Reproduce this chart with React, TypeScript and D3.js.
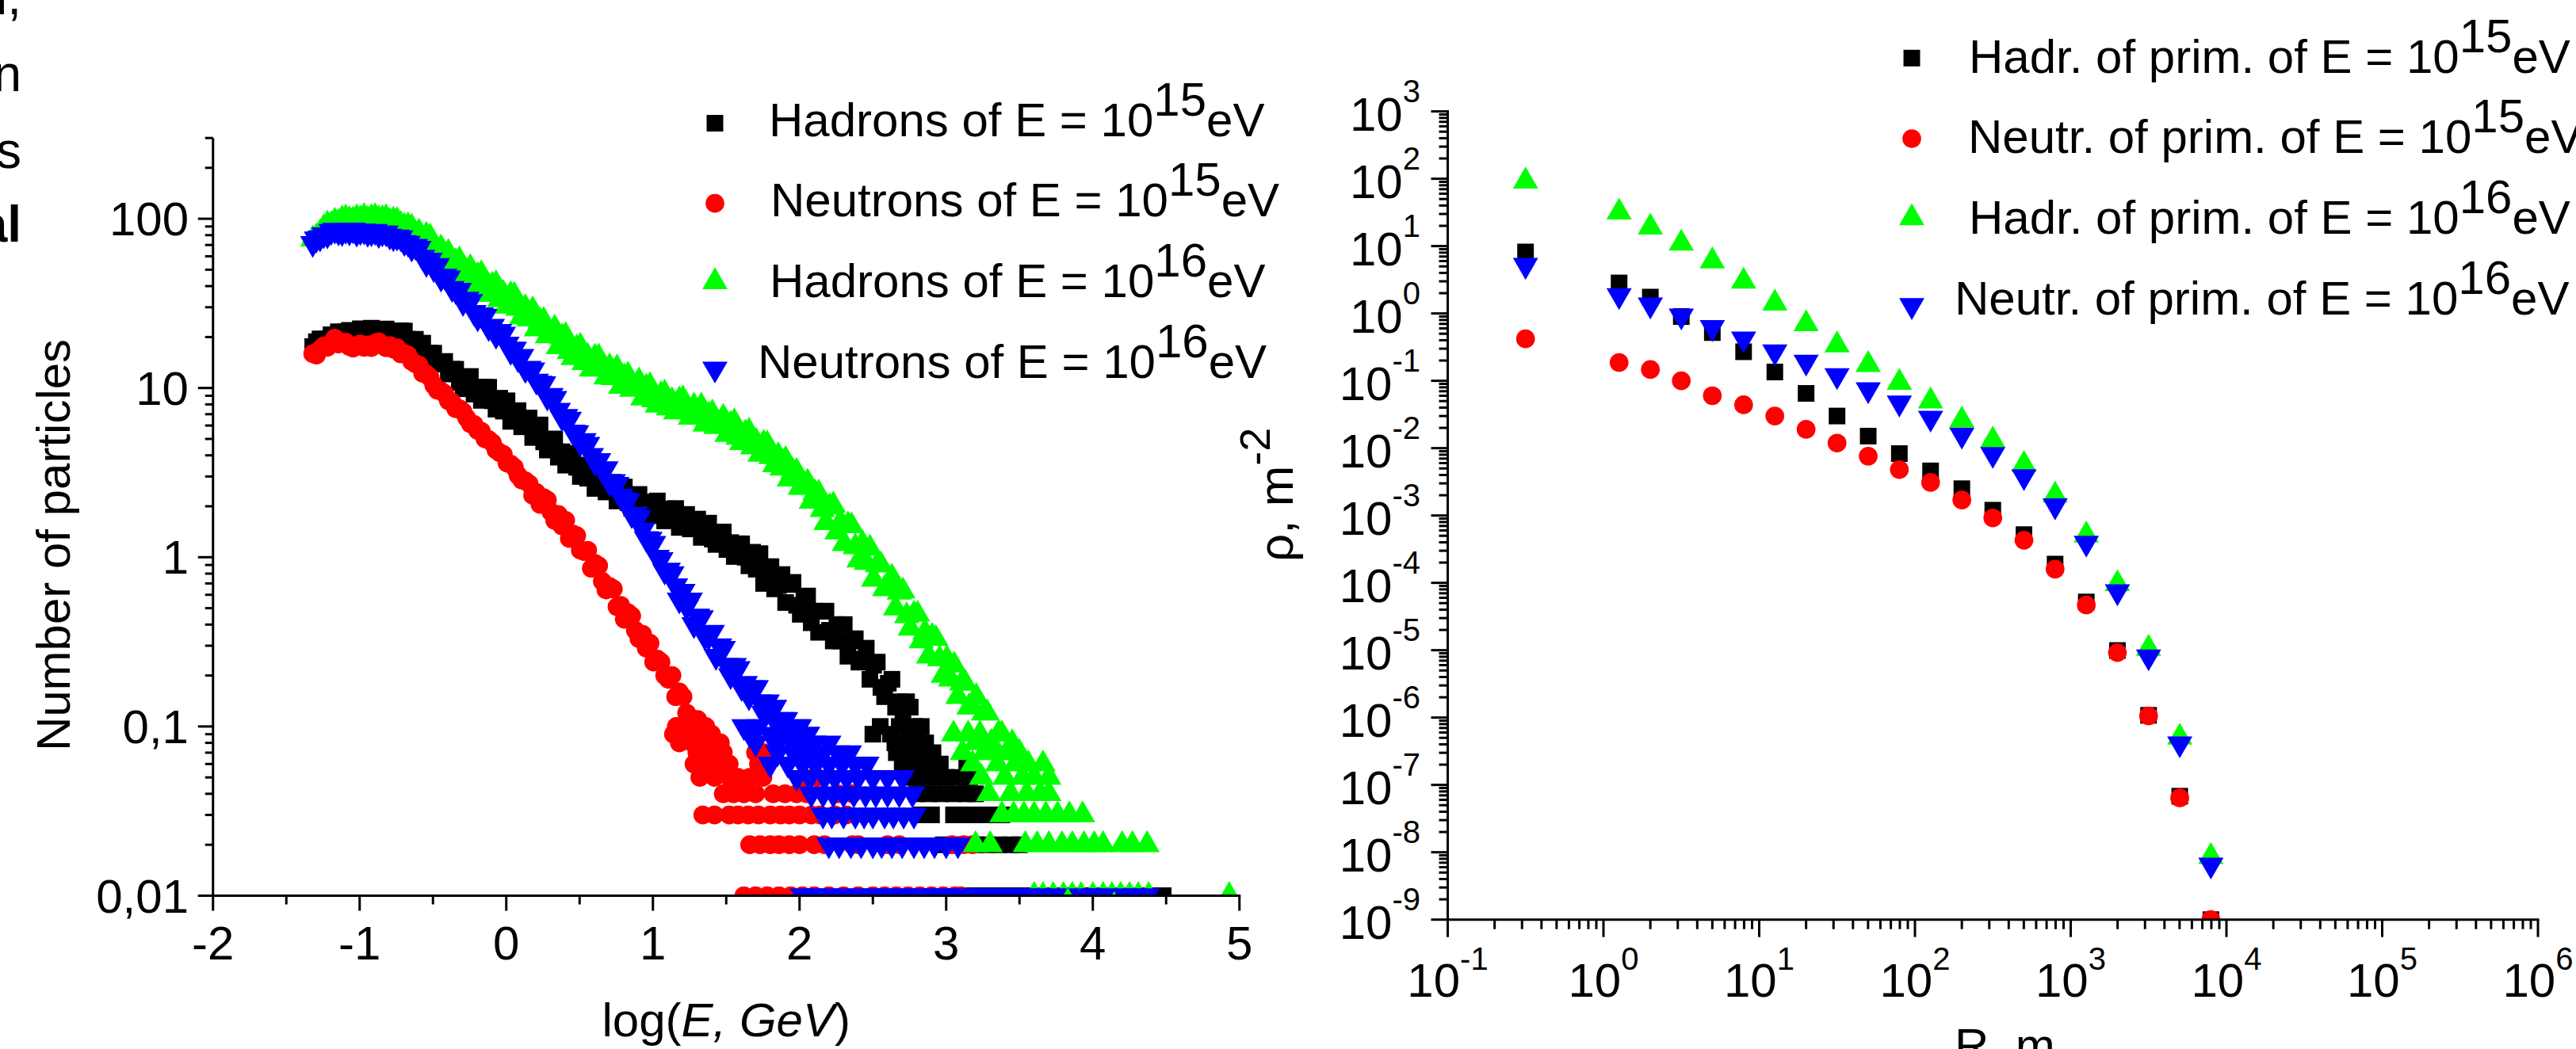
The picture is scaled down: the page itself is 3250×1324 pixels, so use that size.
import React from "react";
import * as d3 from "d3";

const W = 3250;
const H = 1324;
const FONT = '"Liberation Sans", Arial, Helvetica, sans-serif';

// ---------------- Left panel: energy spectra ----------------
// main band values on a regular log(E) grid
const logEStart = -1.32;
const logEStep = 0.025;

const hadrons15Band = [
  17.55, 18.8, 19.5, 19.35, 19.55, 20.65, 20.45, 21.5, 20.7, 21.5,
  21.9, 21.3, 21.7, 22.35, 21.35, 22.2, 22.55, 21.65, 21.45, 22.2,
  22.3, 21.1, 21.4, 20.5, 21.8, 21.7, 19.4, 18, 19.4, 17.3,
  18.4, 15.3, 16.1, 16.05, 13.9, 13.85, 14.35, 12.1, 12.9, 12.9,
  10.8, 9.9, 11.4, 11.7, 9.2, 10.1, 8.45, 10.1, 10.1, 8.4,
  7.5, 8.7, 7.3, 8.4, 6.35, 7.2, 7.35, 5.9, 6.05, 6.65,
  5.1, 5.95, 6.05, 4.8, 4.3, 4.9, 5.0, 3.9, 4.2, 3.5,
  4.1, 4.1, 3.4, 3.0, 3.5, 2.93, 3.36, 2.55, 2.9, 2.98,
  2.43, 2.51, 2.77, 2.15, 2.52, 2.6, 2.1, 1.95, 2.27, 2.35,
  1.88, 2.09, 1.76, 2.12, 2.15, 1.81, 1.64, 1.93, 1.66, 1.94,
  1.5, 1.72, 1.79, 1.47, 1.52, 1.68, 1.31, 1.54, 1.59, 1.28,
  1.19, 1.37, 1.41, 1.11, 1.22, 1.01, 1.2, 1.2, 1.0, 0.89,
  1.07, 0.85, 1.05, 0.7, 0.85, 0.88, 0.65, 0.68, 0.79, 0.54,
  0.69, 0.71, 0.52, 0.46, 0.57, 0.59, 0.41, 0.48, 0.36, 0.48,
  0.48, 0.37, 0.32, 0.4, 0.32, 0.4, 0.26, 0.32, 0.33, 0.24,
  0.25, 0.29, 0.19, 0.23, 0.24, 0.17, 0.15, 0.18, 0.19, 0.13,
  0.14, 0.11, 0.14, 0.13, 0.1, 0.08, 0.1,
];

const neutrons15Band = [
  15.95, 15.65, 16.95, 17.7, 17.4, 18.4, 19.7, 18.2, 18.55, 18.65,
  17.6, 17.2, 17.8, 18.2, 17.4, 17.95, 17.35, 18.4, 18.75, 17.85,
  17.3, 17.8, 16.95, 17.3, 15.9, 16, 15.65, 14.35, 13.9, 13.65,
  12.2, 12.1, 11.55, 10.4, 9.7, 9.6, 9.25, 8.4, 8.25, 7.55,
  7.55, 7.25, 6.65, 6.15, 6.1, 5.6, 5.55, 5.0, 4.95, 4.75,
  4.3, 4.15, 4.05, 3.6, 3.55, 3.4, 3.05, 2.86, 2.83, 2.72,
  2.32, 2.41, 2.05, 2.25, 2.18, 1.85, 1.65, 1.79, 1.53, 1.65,
  1.29, 1.37, 1.34, 1.1, 1.08, 1.1, 0.86, 0.92, 0.89, 0.72,
  0.64, 0.67, 0.65, 0.51, 0.52, 0.43, 0.47, 0.45, 0.37, 0.33,
  0.35, 0.29, 0.31, 0.24, 0.25, 0.24, 0.2, 0.19, 0.2, 0.15,
  0.16, 0.15, 0.12, 0.11, 0.11, 0.11, 0.09,
];

const hadrons16Band = [
  75.5, 78, 82.3, 88.2, 92.6, 92, 96.4, 95, 99.4, 100.8,
  98.9, 98, 101.2, 99.5, 103, 99, 101.6, 102.6, 99.6, 99.9,
  101.3, 96.3, 98, 97.2, 92.4, 89.9, 90.7, 89.1, 80.9, 83.2,
  74.7, 79.7, 77.9, 69.1, 63.9, 67, 60.1, 63.1, 53.6, 55.7,
  57.1, 46.6, 47.4, 51.3, 40, 46.1, 47.2, 38.5, 35.6, 40.4,
  41.2, 33.2, 36.1, 30.4, 35.5, 35.2, 29.5, 26.3, 29.8, 25.5,
  28.9, 22.3, 24.8, 25, 20.3, 20.7, 22.5, 17.5, 20, 20.3,
  16.4, 15.1, 17.2, 17.6, 14.1, 15.3, 12.9, 15.2, 15.2, 12.9,
  11.6, 13.3, 11.5, 13.1, 10.2, 11.6, 11.9, 9.8, 10.1, 11.0,
  8.7, 10.1, 10.3, 8.5, 7.9, 9.1, 9.3, 7.6, 8.4, 7.2,
  8.5, 8.6, 7.35, 6.7, 7.8, 6.8, 7.8, 6.1, 6.9, 7.1,
  5.9, 6.1, 6.7, 5.3, 6.1, 6.3, 5.1, 4.75, 5.4, 5.55,
  4.47, 4.82, 4.05, 4.7, 4.66, 3.92, 3.51, 3.97, 3.35, 3.77,
  2.89, 3.2, 3.21, 2.58, 2.59, 2.77, 2.14, 2.4, 2.39, 1.91,
  1.6, 1.98, 2.03, 1.41, 1.61, 1.2, 1.55, 1.53, 1.15, 0.96,
  1.2, 0.93, 1.13, 0.74, 0.9, 0.9, 0.65, 0.66, 0.76, 0.5,
  0.62, 0.63, 0.45, 0.38, 0.46, 0.46, 0.32, 0.36, 0.26, 0.34,
  0.33, 0.25, 0.2, 0.25, 0.19, 0.23, 0.15, 0.18, 0.18, 0.13,
  0.13, 0.15, 0.09, 0.12, 0.12, 0.08, 0.07, 0.09, 0.09,
];

const neutrons16Band = [
  71.6, 76, 77.2, 80.5, 80.4, 84.2, 85.7, 83.7, 83, 85.5,
  83.7, 85.9, 82.3, 84.2, 84.8, 82.1, 82.7, 84.2, 80.9, 82.6,
  82.6, 79, 77.4, 78.1, 77.4, 72.5, 71.8, 67.3, 68.8, 67,
  59.4, 54.6, 57, 50.9, 53, 44.7, 45.8, 44.8, 38.8, 37.7,
  37.9, 32.1, 33.5, 32.5, 28, 26, 27.1, 26.6, 22.8, 23.2,
  20.5, 21.6, 20.8, 18.2, 16.5, 17, 14.9, 15.4, 12.9, 13.1,
  12.8, 11, 10.7, 10.6, 8.85, 9.05, 8.7, 7.4, 6.7, 6.8,
  6.55, 5.5, 5.45, 4.75, 4.9, 4.65, 4.0, 3.65, 3.73, 3.27,
  3.34, 2.77, 2.8, 2.7, 2.3, 2.19, 2.16, 1.79, 1.8, 1.72,
  1.45, 1.29, 1.28, 1.21, 1.0, 0.97, 0.83, 0.84, 0.8, 0.68,
  0.56, 0.63, 0.51, 0.56, 0.4, 0.45, 0.44, 0.34, 0.34, 0.36,
  0.26, 0.3, 0.29, 0.23, 0.2, 0.23, 0.22, 0.17, 0.18, 0.15,
  0.17, 0.17, 0.14, 0.12, 0.14, 0.12, 0.13, 0.1, 0.11, 0.11,
  0.09, 0.09, 0.1, 0.07, 0.08, 0.09, 0.07, 0.06, 0.07,
];

// sparse low-count points [log(E), number]
const hadrons15Tail = [
  [2.55, 0.1], [2.68, 0.1],
  [2.5, 0.09], [2.62, 0.09], [2.75, 0.09],
  [2.65, 0.08], [2.76, 0.08], [2.86, 0.08],
  [2.66, 0.07], [2.75, 0.07], [2.84, 0.07], [2.91, 0.07],
  [2.7, 0.06], [2.8, 0.06], [2.88, 0.06], [2.96, 0.06], [3.14, 0.06],
  [2.76, 0.05], [2.84, 0.05], [2.92, 0.05], [3.0, 0.05], [3.08, 0.05], [3.16, 0.05],
  [2.8, 0.04], [2.88, 0.04], [2.96, 0.04], [3.05, 0.04], [3.14, 0.04], [3.2, 0.04],
  [2.83, 0.03], [2.9, 0.03], [3.05, 0.03], [3.12, 0.03], [3.2, 0.03], [3.3, 0.03], [3.38, 0.03],
  [2.98, 0.02], [3.06, 0.02], [3.13, 0.02], [3.2, 0.02], [3.28, 0.02], [3.36, 0.02], [3.44, 0.02], [3.5, 0.02],
  [3.18, 0.01], [3.27, 0.01], [3.36, 0.01], [3.45, 0.01], [3.54, 0.01], [3.63, 0.01], [3.72, 0.01],
  [3.81, 0.01], [3.9, 0.01], [3.99, 0.01], [4.08, 0.01], [4.17, 0.01], [4.26, 0.01], [4.35, 0.01],
  [4.42, 0.01], [4.48, 0.01],
];

const neutrons15Tail = [
  [1.16, 0.1], [1.25, 0.1], [1.36, 0.1],
  [1.14, 0.09], [1.22, 0.09], [1.3, 0.09], [1.4, 0.09],
  [1.18, 0.08], [1.27, 0.08], [1.35, 0.08], [1.46, 0.08],
  [1.3, 0.07], [1.38, 0.07], [1.48, 0.07], [1.7, 0.07], [1.76, 0.07],
  [1.28, 0.06], [1.36, 0.06], [1.44, 0.06], [1.52, 0.06], [1.72, 0.06],
  [1.32, 0.05], [1.42, 0.05], [1.52, 0.05], [1.58, 0.05], [1.66, 0.05], [1.75, 0.05], [2.03, 0.05], [2.12, 0.05],
  [1.48, 0.04], [1.55, 0.04], [1.62, 0.04], [1.7, 0.04], [1.82, 0.04], [1.9, 0.04], [1.98, 0.04],
  [2.05, 0.04], [2.26, 0.04], [2.36, 0.04],
  [1.34, 0.03], [1.42, 0.03], [1.52, 0.03], [1.58, 0.03], [1.65, 0.03], [1.72, 0.03], [1.8, 0.03],
  [1.87, 0.03], [1.93, 0.03], [2.0, 0.03], [2.08, 0.03], [2.14, 0.03], [2.24, 0.03], [2.32, 0.03],
  [1.66, 0.02], [1.73, 0.02], [1.8, 0.02], [1.86, 0.02], [1.93, 0.02], [2.0, 0.02], [2.1, 0.02],
  [2.17, 0.02], [2.36, 0.02], [2.4, 0.02], [2.6, 0.02], [2.68, 0.02], [3.04, 0.02], [3.12, 0.02], [3.18, 0.02],
  [1.62, 0.01], [1.7, 0.01], [1.78, 0.01], [1.86, 0.01], [1.94, 0.01], [2.02, 0.01], [2.1, 0.01],
  [2.2, 0.01], [2.3, 0.01], [2.4, 0.01], [2.5, 0.01], [2.58, 0.01], [2.66, 0.01], [2.74, 0.01],
  [2.82, 0.01], [2.9, 0.01], [2.98, 0.01], [3.06, 0.01], [3.1, 0.01],
];

const hadrons16Tail = [
  [3.05, 0.09], [3.15, 0.09], [3.36, 0.09],
  [3.2, 0.08], [3.31, 0.08], [3.45, 0.08],
  [3.11, 0.07], [3.26, 0.07], [3.42, 0.07], [3.5, 0.07],
  [3.18, 0.06], [3.35, 0.06], [3.47, 0.06], [3.56, 0.06], [3.66, 0.06],
  [3.24, 0.05], [3.4, 0.05], [3.52, 0.05], [3.6, 0.05], [3.7, 0.05],
  [3.29, 0.04], [3.44, 0.04], [3.55, 0.04], [3.64, 0.04], [3.7, 0.04],
  [3.38, 0.03], [3.46, 0.03], [3.53, 0.03], [3.6, 0.03], [3.68, 0.03], [3.76, 0.03], [3.84, 0.03], [3.93, 0.03],
  [3.2, 0.02], [3.3, 0.02], [3.54, 0.02], [3.62, 0.02], [3.7, 0.02], [3.79, 0.02], [3.86, 0.02],
  [3.94, 0.02], [4.01, 0.02], [4.07, 0.02], [4.2, 0.02], [4.27, 0.02], [4.37, 0.02],
  [3.6, 0.01], [3.66, 0.01], [3.73, 0.01], [3.8, 0.01], [3.86, 0.01], [3.92, 0.01], [4.0, 0.01],
  [4.07, 0.01], [4.13, 0.01], [4.19, 0.01], [4.25, 0.01], [4.31, 0.01], [4.38, 0.01], [4.93, 0.01],
];

const neutrons16Tail = [
  [1.62, 0.1], [1.72, 0.1], [1.86, 0.1], [2.0, 0.1],
  [1.66, 0.09], [1.8, 0.09], [1.94, 0.09], [2.05, 0.09],
  [1.7, 0.08], [1.85, 0.08], [1.95, 0.08], [2.1, 0.08], [2.2, 0.08],
  [1.85, 0.07], [1.96, 0.07], [2.06, 0.07], [2.16, 0.07], [2.26, 0.07], [2.34, 0.07],
  [1.8, 0.06], [1.92, 0.06], [2.02, 0.06], [2.11, 0.06], [2.2, 0.06], [2.29, 0.06], [2.38, 0.06], [2.46, 0.06],
  [1.98, 0.05], [2.07, 0.05], [2.17, 0.05], [2.24, 0.05], [2.32, 0.05], [2.4, 0.05], [2.5, 0.05], [2.6, 0.05], [2.7, 0.05],
  [2.08, 0.04], [2.16, 0.04], [2.23, 0.04], [2.3, 0.04], [2.37, 0.04], [2.45, 0.04], [2.52, 0.04],
  [2.6, 0.04], [2.68, 0.04], [2.77, 0.04],
  [2.16, 0.03], [2.22, 0.03], [2.3, 0.03], [2.38, 0.03], [2.44, 0.03], [2.5, 0.03], [2.58, 0.03],
  [2.64, 0.03], [2.71, 0.03], [2.78, 0.03],
  [2.2, 0.02], [2.27, 0.02], [2.35, 0.02], [2.42, 0.02], [2.5, 0.02], [2.56, 0.02], [2.63, 0.02],
  [2.7, 0.02], [2.78, 0.02], [2.85, 0.02], [2.92, 0.02], [3.0, 0.02], [3.08, 0.02],
  [2.02, 0.01], [2.1, 0.01], [2.2, 0.01], [2.32, 0.01], [2.43, 0.01], [2.52, 0.01], [2.6, 0.01],
  [2.7, 0.01], [2.79, 0.01], [2.88, 0.01], [2.96, 0.01], [3.05, 0.01], [3.14, 0.01], [3.22, 0.01],
  [3.3, 0.01], [3.39, 0.01], [3.48, 0.01], [3.56, 0.01], [3.65, 0.01], [3.74, 0.01], [3.92, 0.01],
  [4.0, 0.01], [4.07, 0.01], [4.22, 0.01], [4.29, 0.01], [4.37, 0.01],
];

// ---------------- Right panel: lateral densities ----------------
const radiusM = [0.316, 1.26, 2.0, 3.16, 5.0, 7.94, 12.6, 20, 31.6, 50.1, 79.4, 126, 200, 316, 501, 794, 1259, 1995, 3162, 5012, 7943];
const hadr15Rho = [8.2, 2.84, 1.75, 0.9, 0.52, 0.27, 0.135, 0.065, 0.03, 0.0151, 0.0083, 0.0046, 0.0025, 0.0012, 5.2e-4, 1.9e-4, 5.2e-5, 9.9e-6, 1.08e-6, 6.8e-8, 1.0e-9];
const neutr15Rho = [0.42, 0.187, 0.147, 0.1, 0.06, 0.044, 0.03, 0.019, 0.0119, 0.0076, 0.0048, 0.0031, 0.0017, 9.2e-4, 4.3e-4, 1.6e-4, 4.7e-5, 9.2e-6, 1.06e-6, 6.4e-8, 1.0e-9];
const hadr16Rho = [92, 31.8, 19, 11, 6.0, 3.0, 1.42, 0.7, 0.34, 0.174, 0.094, 0.05, 0.026, 0.0131, 0.0057, 0.002, 5.1e-4, 9.7e-5, 1.06e-5, 5.1e-7, 8.6e-9];
const neutr16Rho = [5.2, 1.85, 1.34, 0.92, 0.62, 0.42, 0.27, 0.19, 0.12, 0.074, 0.047, 0.028, 0.0157, 0.0081, 0.0038, 0.0014, 3.9e-4, 7.4e-5, 8.0e-6, 4.1e-7, 6.5e-9];

// ---------------- Ticks & labels ----------------
const leftXTicks = [-2, -1, 0, 1, 2, 3, 4, 5];
const leftYTicks = [0.01, 0.1, 1, 10, 100];
const leftYTickLabels = ["0,01", "0,1", "1", "10", "100"];
const rightXExponents = [-1, 0, 1, 2, 3, 4, 5, 6];
const rightYExponents = [-9, -8, -7, -6, -5, -4, -3, -2, -1, 0, 1, 2, 3];

const leftLegendLabels = ["Hadrons of E = 10", "Neutrons of E = 10", "Hadrons of E = 10", "Neutrons of E = 10"];
const rightLegendLabels = ["Hadr. of prim. of E = 10", "Neutr. of prim. of E = 10", "Hadr. of prim. of E = 10", "Neutr. of prim. of E = 10"];
const legendExponents = ["15", "15", "16", "16"];

const seriesStyles = [
  { shape: "square", color: "#000000" },
  { shape: "circle", color: "#ff0000" },
  { shape: "up", color: "#00ff00" },
  { shape: "down", color: "#0000ff" },
];

export default function App() {
  const xL = d3.scaleLinear().domain([-2, 5]).range([268.75, 1563.75]);
  const yL = d3.scaleLog().domain([0.01, 100]).range([1130.5, 276.1]);
  const xR = d3.scaleLog().domain([0.1, 1e6]).range([1826.5, 3202]);
  const yR = d3.scaleLog().domain([1e-9, 1e3]).range([1160.7, 140.6]);

  const symSize = 440;
  const paths = {
    square: d3.symbol().type(d3.symbolSquare).size(symSize)(),
    circle: d3.symbol().type(d3.symbolCircle).size(symSize)(),
    up: d3.symbol().type(d3.symbolTriangle).size(symSize)(),
    down: d3.symbol().type(d3.symbolTriangle).size(symSize)(),
  };
  const marker = (shape, color, x, y, key) => (
    <path
      key={key}
      d={paths[shape]}
      fill={color}
      transform={`translate(${x.toFixed(2)},${y.toFixed(2)})${shape === "down" ? " rotate(180)" : ""}`}
    />
  );

  const bands = [hadrons15Band, neutrons15Band, hadrons16Band, neutrons16Band];
  const tails = [hadrons15Tail, neutrons15Tail, hadrons16Tail, neutrons16Tail];
  const rhos = [hadr15Rho, neutr15Rho, hadr16Rho, neutr16Rho];

  const leftPoints = bands.map((band, s) => {
    const pts = band.map((v, i) => [logEStart + i * logEStep, v]).filter((p) => p[1] > 0);
    return pts.concat(tails[s]);
  });

  const axisColor = "#000";
  const sw = 3;

  const leftYMinor = [];
  [0.01, 0.1, 1, 10, 100].forEach((d) => {
    for (let k = 2; k <= 9; k++) if (k * d <= 300.0001) leftYMinor.push(k * d);
  });
  const leftXMinor = d3.range(-1.5, 5, 1);

  const rightYMinor = [];
  for (let e = -9; e < 3; e++) for (let k = 2; k <= 9; k++) rightYMinor.push(k * Math.pow(10, e));
  const rightXMinor = [];
  for (let e = -1; e < 6; e++) for (let k = 2; k <= 9; k++) rightXMinor.push(k * Math.pow(10, e));

  const L0 = xL(-2), L1 = xL(5), LB = yL(0.01), LT = yL(300);
  const R0 = xR(0.1), R1 = xR(1e6), RB = yR(1e-9), RT = yR(1e3);

  const leftLegendY = [155.5, 256.7, 355.7, 465.7];
  const leftLegendBase = [171.7, 273.3, 375.3, 477];
  const leftLegendTextX = [970, 972, 971, 956];
  const rightLegendY = [73.3, 175, 275, 385.5];
  const rightLegendBase = [91.7, 193.3, 295, 396.7];
  const rightLegendTextX = [2484, 2483, 2484, 2466];

  return (
    <svg
      width={W}
      height={H}
      viewBox={`0 0 ${W} ${H}`}
      style={{ position: "absolute", left: 0, top: 0, display: "block", background: "#fff" }}
      fontFamily={FONT}
    >
      <rect x={0} y={0} width={W} height={H} fill="#fff" />
      <defs>
        <clipPath id="clipLeft">
          <rect x={L0} y={120} width={L1 - L0 + 2} height={LB - 120} />
        </clipPath>
        <clipPath id="clipRight">
          <rect x={R0} y={100} width={R1 - R0 + 2} height={RB - 100} />
        </clipPath>
      </defs>

      {/* cut-off text on the left border (continuation of a neighbouring column) */}
      <g fontSize={64} textAnchor="end" fill="#000">
        <text x={27} y={18}>l,</text>
        <text x={27} y={115}>n</text>
        <text x={27} y={212}>s</text>
        <text x={27} y={305} fontWeight="bold">al</text>
      </g>

      {/* ---------- Left panel markers ---------- */}
      <g clipPath="url(#clipLeft)">
        {leftPoints.map((pts, s) =>
          pts.map((p, i) => marker(seriesStyles[s].shape, seriesStyles[s].color, xL(p[0]), yL(p[1]), `l${s}-${i}`))
        )}
      </g>

      {/* Left axes */}
      <g stroke={axisColor} strokeWidth={sw} fill="none">
        <line x1={L0} y1={LT} x2={L0} y2={LB + 1.5} />
        <line x1={L0 - 1.5} y1={LB} x2={L1 + 1.5} y2={LB} />
        {leftYTicks.map((v) => (
          <line key={`ly${v}`} x1={L0 - 19} x2={L0} y1={yL(v)} y2={yL(v)} />
        ))}
        {leftYMinor.map((v, i) => (
          <line key={`lym${i}`} x1={L0 - 10} x2={L0} y1={yL(v)} y2={yL(v)} />
        ))}
        {leftXTicks.map((v) => (
          <line key={`lx${v}`} x1={xL(v)} x2={xL(v)} y1={LB} y2={LB + 19} />
        ))}
        {leftXMinor.map((v, i) => (
          <line key={`lxm${i}`} x1={xL(v)} x2={xL(v)} y1={LB} y2={LB + 11} />
        ))}
      </g>
      <g fontSize={60} fill="#000">
        {leftYTicks.map((v, i) => (
          <text key={`lyt${v}`} x={238} y={yL(v) + 21} textAnchor="end">
            {leftYTickLabels[i]}
          </text>
        ))}
        {leftXTicks.map((v) => (
          <text key={`lxt${v}`} x={xL(v)} y={1211} textAnchor="middle">
            {String(v)}
          </text>
        ))}
        <text x={(L0 + L1) / 2} y={1308} textAnchor="middle">
          log(<tspan fontStyle="italic">E, GeV</tspan>)
        </text>
        <text transform="translate(88,688) rotate(-90)" textAnchor="middle">
          Number of particles
        </text>
      </g>

      {/* Left legend */}
      <g fontSize={60} fill="#000">
        {leftLegendLabels.map((lab, i) => (
          <g key={`ll${i}`}>
            {marker(seriesStyles[i].shape, seriesStyles[i].color, 902, leftLegendY[i], `llm${i}`)}
            <text x={leftLegendTextX[i]} y={leftLegendBase[i]}>
              {lab}
              <tspan dy={-26}>{legendExponents[i]}</tspan>
              <tspan dy={26}>eV</tspan>
            </text>
          </g>
        ))}
      </g>

      {/* ---------- Right panel markers ---------- */}
      <g clipPath="url(#clipRight)">
        {rhos.map((vals, s) =>
          vals.map((v, i) => marker(seriesStyles[s].shape, seriesStyles[s].color, xR(radiusM[i]), yR(v), `r${s}-${i}`))
        )}
      </g>

      {/* Right axes */}
      <g stroke={axisColor} strokeWidth={sw} fill="none">
        <line x1={R0} y1={RT - 1.5} x2={R0} y2={RB + 1.5} />
        <line x1={R0 - 1.5} y1={RB} x2={R1 + 1.5} y2={RB} />
        {rightYExponents.map((e) => (
          <line key={`ry${e}`} x1={R0 - 21} x2={R0} y1={yR(Math.pow(10, e))} y2={yR(Math.pow(10, e))} />
        ))}
        {rightYMinor.map((v, i) => (
          <line key={`rym${i}`} x1={R0 - 11} x2={R0} y1={yR(v)} y2={yR(v)} />
        ))}
        {rightXExponents.map((e) => (
          <line key={`rx${e}`} x1={xR(Math.pow(10, e))} x2={xR(Math.pow(10, e))} y1={RB} y2={RB + 22} />
        ))}
        {rightXMinor.map((v, i) => (
          <line key={`rxm${i}`} x1={xR(v)} x2={xR(v)} y1={RB} y2={RB + 12} />
        ))}
      </g>
      <g fontSize={60} fill="#000">
        {rightYExponents.map((e) => (
          <text key={`ryt${e}`} x={1792} y={yR(Math.pow(10, e)) + 24} textAnchor="end">
            10<tspan dy={-36} fontSize={40}>{String(e)}</tspan>
          </text>
        ))}
        {rightXExponents.map((e) => (
          <text key={`rxt${e}`} x={xR(Math.pow(10, e))} y={1258} textAnchor="middle">
            10<tspan dy={-34} fontSize={40}>{String(e)}</tspan>
          </text>
        ))}
        <text x={2466} y={1340}>R, m</text>
        <text transform="translate(1631,709) rotate(-90)" fontSize={62}>
          ρ, m<tspan dy={-29} fontSize={54}>-2</tspan>
        </text>
      </g>

      {/* Right legend */}
      <g fontSize={60} fill="#000">
        {rightLegendLabels.map((lab, i) => (
          <g key={`rl${i}`}>
            {marker(seriesStyles[i].shape, seriesStyles[i].color, 2412, rightLegendY[i], `rlm${i}`)}
            <text x={rightLegendTextX[i]} y={rightLegendBase[i]}>
              {lab}
              <tspan dy={-26}>{legendExponents[i]}</tspan>
              <tspan dy={26}>eV</tspan>
            </text>
          </g>
        ))}
      </g>
    </svg>
  );
}
